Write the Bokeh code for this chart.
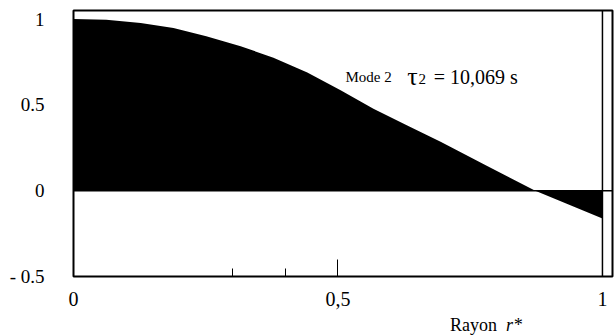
from bokeh.plotting import figure
from bokeh.models import FixedTicker, Range1d, Span, Label, Div
from bokeh.layouts import column
from bokeh.embed import file_html
from bokeh.resources import INLINE

# data
radius = [0.0, 0.062, 0.127, 0.189, 0.251, 0.316, 0.378, 0.442, 0.505, 0.567, 0.631, 0.694, 0.783, 0.873, 1.0]
mode2 = [1.0, 0.996, 0.977, 0.948, 0.900, 0.842, 0.775, 0.688, 0.585, 0.478, 0.380, 0.285, 0.142, 0.0, -0.162]

x_ticks = [0, 0.5, 1]
x_minor_ticks = [0.3, 0.4]
x_tick_labels = {0: "0", 0.5: "0,5", 1: "1"}
y_ticks = [-0.5, 0, 0.5, 1]
y_tick_labels = {-0.5: "- 0.5", 0: "0", 0.5: "0.5", 1: "1"}

SERIF = "Liberation Serif"

p = figure(width=616, height=316, output_backend="svg", toolbar_location=None,
           x_range=Range1d(0, 1.019), y_range=Range1d(-0.5, 1.05),
           min_border_left=73, min_border_right=4, min_border_top=10, min_border_bottom=40,
           margin=0)
p.background_fill_color = "white"
p.border_fill_color = "white"
p.outline_line_color = "black"
p.outline_line_width = 2
p.grid.visible = False

p.varea(x=radius, y1=[0] * len(radius), y2=mode2, fill_color="black")

p.add_layout(Span(location=0, dimension="width", line_color="black", line_width=1.5))
p.add_layout(Span(location=x_ticks[-1], dimension="height", line_color="black", line_width=1.5))

xa = p.xaxis[0]
xa.ticker = FixedTicker(ticks=x_ticks, minor_ticks=x_minor_ticks)
xa.major_label_overrides = x_tick_labels
xa.axis_line_color = None
xa.major_tick_in = 17
xa.major_tick_out = 0
xa.minor_tick_in = 8
xa.minor_tick_out = 0
xa.major_tick_line_color = "black"
xa.minor_tick_line_color = "black"
xa.major_label_text_font = SERIF
xa.major_label_text_font_size = "20px"
xa.major_label_text_color = "black"
xa.major_label_standoff = 15

ya = p.yaxis[0]
ya.ticker = FixedTicker(ticks=y_ticks)
ya.major_label_overrides = y_tick_labels
ya.axis_line_color = None
ya.major_tick_line_color = None
ya.minor_tick_line_color = None
ya.major_tick_in = 0
ya.major_tick_out = 0
ya.major_label_text_font = SERIF
ya.major_label_text_font_size = "19px"
ya.major_label_text_color = "black"
ya.major_label_standoff = 29

def lab(x, y, text, size, style="normal"):
    p.add_layout(Label(x=x, y=y, text=text, text_font=SERIF, text_font_size=size,
                       text_font_style=style, text_color="black", text_baseline="alphabetic"))

lab(0.514, 0.665, "Mode 2", "15px")
lab(0.631, 0.665, "τ", "26px")
lab(0.652, 0.650, "2", "15px")
lab(0.681, 0.665, "= 10,069 s", "20px")

xlabel = Div(text='Rayon&nbsp;&nbsp;<i>r*</i>', width=616, height=19, margin=0,
             styles={"font-family": SERIF, "font-size": "18px", "line-height": "18px",
                     "padding-left": "450px", "color": "black", "white-space": "nowrap"})

layout = column(p, xlabel, spacing=0, margin=0)

open("out.html", "w").write(file_html(layout, INLINE))
